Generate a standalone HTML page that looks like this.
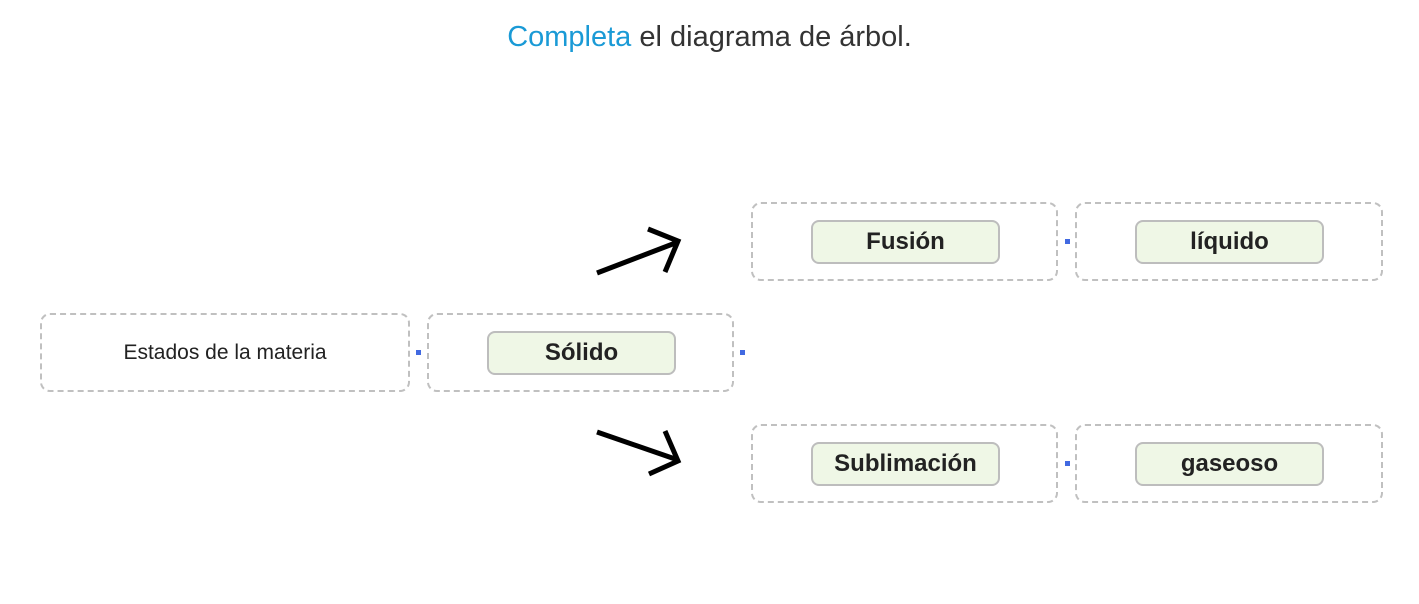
<!DOCTYPE html>
<html><head><meta charset="utf-8"><style>
body{margin:0;width:1419px;height:604px;background:#fff;position:relative;font-family:"Liberation Sans","DejaVu Sans",sans-serif;overflow:hidden}
.t{position:absolute;top:21px;left:0;width:1419px;text-align:center;font-size:29px;color:#333}
.t span{color:#1a9ad6}
.b{position:absolute;border:2px dashed #c0c0c0;border-radius:10px;box-sizing:border-box}
.p{position:absolute;background:#eff7e6;border:2px solid #bdbdbd;border-radius:8px;box-sizing:border-box;text-align:center;font-weight:bold;font-size:24px;color:#222;line-height:39px}
.d{position:absolute;width:5px;height:5px;background:#4169e1}
.l{position:absolute;font-size:21px;color:#222;text-align:center;line-height:74px}
</style></head><body>
<div class="t"><span>Completa</span> el diagrama de árbol.</div>
<div class="b" style="left:40px;top:313px;width:370px;height:79px"></div>
<div class="l" style="left:40px;top:316px;width:370px">Estados de la materia</div>
<div class="d" style="left:416px;top:350px"></div>
<div class="b" style="left:427px;top:313px;width:307px;height:79px"></div>
<div class="p" style="left:487px;top:331px;width:189px;height:44px">Sólido</div>
<div class="d" style="left:740px;top:350px"></div>
<div class="b" style="left:751px;top:202px;width:307px;height:79px"></div>
<div class="p" style="left:811px;top:220px;width:189px;height:44px">Fusión</div>
<div class="d" style="left:1065px;top:239px"></div>
<div class="b" style="left:1075px;top:202px;width:308px;height:79px"></div>
<div class="p" style="left:1135px;top:220px;width:189px;height:44px">líquido</div>
<div class="b" style="left:751px;top:424px;width:307px;height:79px"></div>
<div class="p" style="left:811px;top:442px;width:189px;height:44px">Sublimación</div>
<div class="d" style="left:1065px;top:461px"></div>
<div class="b" style="left:1075px;top:424px;width:308px;height:79px"></div>
<div class="p" style="left:1135px;top:442px;width:189px;height:44px">gaseoso</div>
<svg style="position:absolute;left:0;top:0" width="1419" height="604">
<g stroke="#000" stroke-width="5" fill="none" stroke-linejoin="miter" stroke-miterlimit="10">
<line x1="597" y1="273" x2="678" y2="242"/>
<polyline points="648,229 678,241 665,272"/>
<line x1="597" y1="432" x2="678" y2="460"/>
<polyline points="665,431 678,461 649,474"/>
</g></svg>
</body></html>
